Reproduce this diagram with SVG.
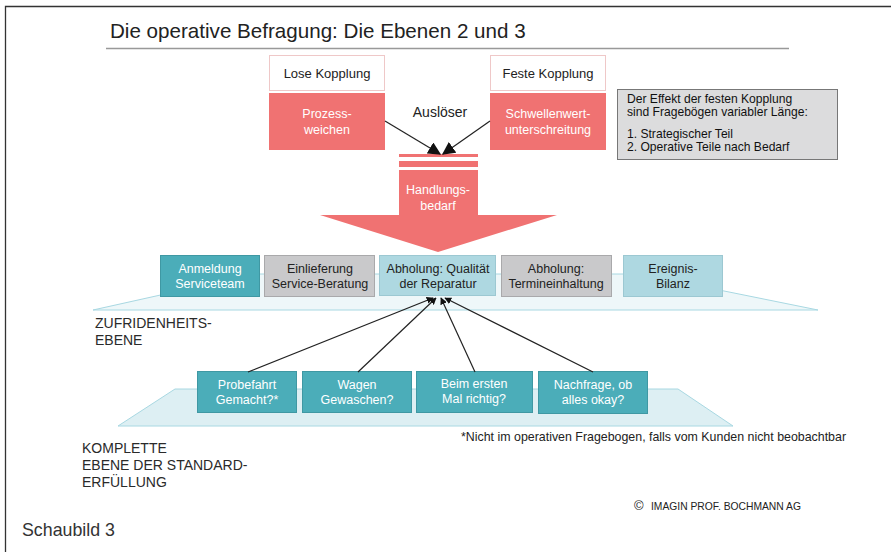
<svg xmlns="http://www.w3.org/2000/svg" width="891" height="552" viewBox="0 0 891 552">
<defs>
<style>
text{font-family:"Liberation Sans",Arial,sans-serif;}
.bt{font-size:12.5px;text-anchor:middle;}
.w{fill:#ffffff;}
.d{fill:#222222;}
.teal{fill:#4BADB9;stroke:#3F98A3;stroke-width:1;}
.gray{fill:#C9C9CB;stroke:#A9A9AB;stroke-width:1;}
.lb{fill:#AED8E1;stroke:#9CC8D2;stroke-width:1;}
.sal{fill:#F07272;}
.lvl{font-size:14px;fill:#2a2a2a;}
.con{stroke:#222;stroke-width:1.2;fill:none;}
</style>
<marker id="ah" viewBox="0 0 10 10" refX="9" refY="5" markerWidth="7" markerHeight="7" orient="auto" markerUnits="userSpaceOnUse">
<path d="M0,0 L10,5 L0,10 z" fill="#111"/>
</marker>
<marker id="ahb" viewBox="0 0 10 10" refX="9" refY="5" markerWidth="13" markerHeight="13" orient="auto" markerUnits="userSpaceOnUse">
<path d="M0,0 L10,5 L0,10 z" fill="#111"/>
</marker>
</defs>
<rect x="0" y="0" width="891" height="552" fill="#ffffff"/>
<path d="M5.5,552 V6.5 H891" fill="none" stroke="#333" stroke-width="1.3"/>
<text x="110" y="38" font-size="20.6" fill="#222">Die operative Befragung: Die Ebenen 2 und 3</text>
<line x1="106" y1="48.5" x2="789" y2="48.5" stroke="#999" stroke-width="1.3"/>

<g id="planes">
<polygon points="93,310 818,310 640,274 255,274" fill="#EEF7F9" stroke="#A8D8E2" stroke-width="1"/>
<polygon points="118,426 733,426 678,389 175,389" fill="#DDEFF3" stroke="#A8D8E2" stroke-width="1"/>
</g>

<g id="lose">
<rect x="269.5" y="55.5" width="115" height="35" fill="#fff" stroke="#EFC8C8"/>
<text x="327" y="78" font-size="13" text-anchor="middle" fill="#222">Lose Kopplung</text>
</g>
<g id="prozess">
<rect class="sal" x="269" y="93" width="116" height="57"/>
<text class="bt w" x="327" y="118">Prozess-</text>
<text class="bt w" x="327" y="134">weichen</text>
</g>
<g id="feste">
<rect x="490.5" y="55.5" width="115" height="35" fill="#fff" stroke="#EFC8C8"/>
<text x="548" y="78" font-size="13" text-anchor="middle" fill="#222">Feste Kopplung</text>
</g>
<g id="schwelle">
<rect class="sal" x="490" y="93" width="116" height="57"/>
<text class="bt w" x="548" y="118">Schwellenwert-</text>
<text class="bt w" x="548" y="134">unterschreitung</text>
</g>
<text x="440" y="117" font-size="14" text-anchor="middle" fill="#222">Auslöser</text>

<g id="handlung">
<rect class="sal" x="399" y="154" width="79" height="3"/>
<rect class="sal" x="399" y="161" width="79" height="6"/>
<polygon class="sal" points="399,170 478,170 478,215 557,215 438,252 320,215 399,215"/>
<text class="bt w" x="438" y="194">Handlungs-</text>
<text class="bt w" x="438" y="210">bedarf</text>
</g>

<g id="effekt">
<rect x="617.5" y="89.5" width="220" height="70" fill="#DCDCDD" stroke="#777" stroke-width="1"/>
<text x="627" y="103" font-size="12.1" fill="#111">Der Effekt der festen Kopplung</text>
<text x="627" y="116" font-size="12.1" fill="#111">sind Fragebögen variabler Länge:</text>
<text x="627" y="138" font-size="12.1" fill="#111">1. Strategischer Teil</text>
<text x="627" y="151" font-size="12.1" fill="#111">2. Operative Teile nach Bedarf</text>
</g>

<g id="anmeldung">
<rect class="teal" x="160.5" y="255.5" width="99" height="41"/>
<text class="bt w" x="210" y="273">Anmeldung</text>
<text class="bt w" x="210" y="288">Serviceteam</text>
</g>
<g id="einlieferung">
<rect class="gray" x="264.5" y="255.5" width="110" height="41"/>
<text class="bt d" x="320" y="273">Einlieferung</text>
<text class="bt d" x="320" y="288">Service-Beratung</text>
</g>
<g id="qualitaet">
<rect class="lb" x="379.5" y="255.5" width="116" height="40"/>
<text class="bt d" x="438" y="273">Abholung: Qualität</text>
<text class="bt d" x="438" y="288">der Reparatur</text>
</g>
<g id="termin">
<rect class="gray" x="501.5" y="255.5" width="110" height="41"/>
<text class="bt d" x="556" y="273">Abholung:</text>
<text class="bt d" x="556" y="288">Termineinhaltung</text>
</g>
<g id="ereignis">
<rect class="lb" x="623.5" y="255.5" width="99" height="41"/>
<text class="bt d" x="673" y="273">Ereignis-</text>
<text class="bt d" x="673" y="288">Bilanz</text>
</g>

<text class="lvl" x="95" y="328">ZUFRIDENHEITS-</text>
<text class="lvl" x="95" y="345">EBENE</text>

<g id="probefahrt">
<rect class="teal" x="197.5" y="371.5" width="99" height="41"/>
<text class="bt w" x="247" y="389">Probefahrt</text>
<text class="bt w" x="247" y="404">Gemacht?*</text>
</g>
<g id="wagen">
<rect class="teal" x="302.5" y="371.5" width="109" height="41"/>
<text class="bt w" x="357" y="389">Wagen</text>
<text class="bt w" x="357" y="404">Gewaschen?</text>
</g>
<g id="beim">
<rect class="teal" x="416.5" y="371.5" width="116" height="41"/>
<text class="bt w" x="474" y="388">Beim ersten</text>
<text class="bt w" x="474" y="403">Mal richtig?</text>
</g>
<g id="nachfrage">
<rect class="teal" x="538.5" y="371.5" width="109" height="42"/>
<text class="bt w" x="593" y="389">Nachfrage, ob</text>
<text class="bt w" x="593" y="404">alles okay?</text>
</g>

<g id="connectors">
<line class="con" x1="385" y1="121" x2="440" y2="154" marker-end="url(#ahb)"/>
<line class="con" x1="490" y1="121" x2="443" y2="154" marker-end="url(#ahb)"/>
<line class="con" x1="248" y1="372" x2="433" y2="298" marker-end="url(#ah)"/>
<line class="con" x1="358" y1="372" x2="436" y2="298" marker-end="url(#ah)"/>
<line class="con" x1="475" y1="372" x2="441" y2="298" marker-end="url(#ah)"/>
<line class="con" x1="593" y1="372" x2="445" y2="298" marker-end="url(#ah)"/>
</g>

<text x="461" y="441" font-size="12.4" fill="#222">*Nicht im operativen Fragebogen, falls vom Kunden nicht beobachtbar</text>
<text class="lvl" x="82" y="453">KOMPLETTE</text>
<text class="lvl" x="82" y="470">EBENE DER STANDARD-</text>
<text class="lvl" x="82" y="487">ERFÜLLUNG</text>
<text x="634" y="510" font-size="13" fill="#222">©</text>
<text x="651" y="510" font-size="10.3" fill="#222">IMAGIN PROF. BOCHMANN AG</text>
<text x="22" y="536" font-size="17.8" fill="#333">Schaubild 3</text>
</svg>
